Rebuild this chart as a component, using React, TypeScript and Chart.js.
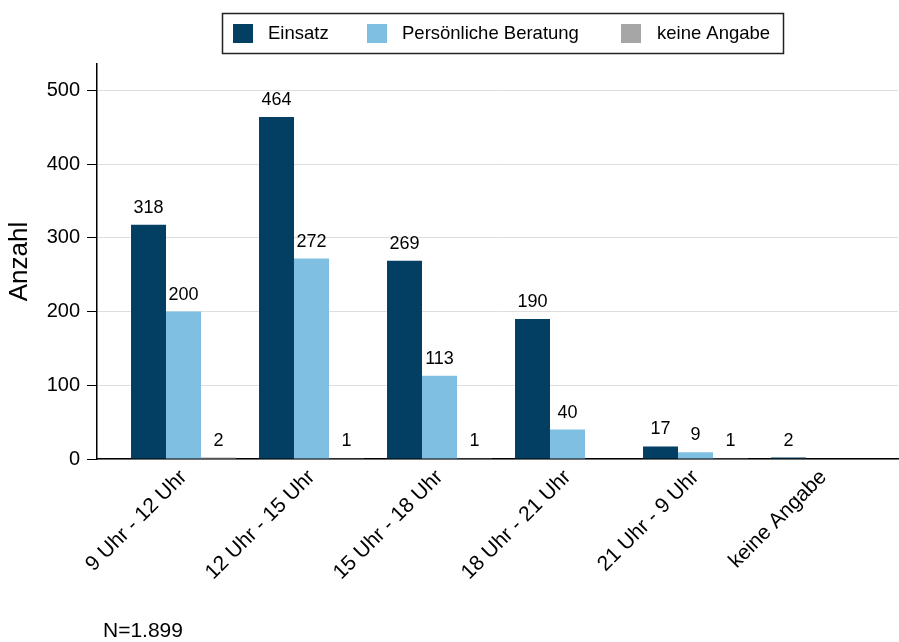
import React, { useEffect, useRef } from "react";
import { Chart, registerables } from "chart.js";

Chart.register(...registerables);

const categories = ["9 Uhr - 12 Uhr", "12 Uhr - 15 Uhr", "15 Uhr - 18 Uhr", "18 Uhr - 21 Uhr", "21 Uhr - 9 Uhr", "keine Angabe"];
const einsatz: (number | null)[] = [318, 464, 269, 190, 17, 2];
const beratung: (number | null)[] = [200, 272, 113, 40, 9, null];
const keineAngabe: (number | null)[] = [2, 1, 1, null, 1, null];
const seriesNames = ["Einsatz", "Persönliche Beratung", "keine Angabe"];
const seriesColors = ["#023f62", "#7fbfe2", "#a6a6a6"];
const yTicks = [0, 100, 200, 300, 400, 500];
const noteText = "N=1.899";

const FONT = "'Liberation Sans', Arial, sans-serif";

const toPoints = (arr: (number | null)[]) => arr.map((v, i) => ({ x: i, y: v }));

const valueLabels = {
  id: "valueLabels",
  afterDatasetsDraw(chart: any) {
    const ctx = chart.ctx;
    ctx.save();
    ctx.font = `18px ${FONT}`;
    ctx.fillStyle = "#000";
    ctx.textAlign = "center";
    ctx.textBaseline = "alphabetic";
    chart.data.datasets.forEach((ds: any, di: number) => {
      const meta = chart.getDatasetMeta(di);
      meta.data.forEach((el: any, i: number) => {
        const v = ds.data[i].y;
        if (v === null || v === undefined) return;
        ctx.fillText(String(v), el.x, el.y - 12);
      });
    });
    ctx.restore();
  },
};

const legendBox = {
  id: "legendBox",
  afterDraw(chart: any) {
    const ctx = chart.ctx;
    ctx.save();
    ctx.strokeStyle = "#222";
    ctx.lineWidth = 1.5;
    ctx.strokeRect(222.5, 13.5, 561, 40);
    const markerX = [233, 367, 621];
    const textX = [268, 402, 657];
    ctx.font = `18.5px ${FONT}`;
    ctx.textBaseline = "middle";
    ctx.textAlign = "left";
    seriesNames.forEach((name, i) => {
      ctx.fillStyle = seriesColors[i];
      ctx.fillRect(markerX[i], 24, 20, 19);
      ctx.fillStyle = "#000";
      ctx.fillText(name, textX[i], 34);
    });
    ctx.font = `21px ${FONT}`;
    ctx.textBaseline = "alphabetic";
    ctx.fillText(noteText, 103, 637);
    ctx.restore();
  },
};

export default function App() {
  const ref = useRef<HTMLCanvasElement>(null);
  useEffect(() => {
    if (!ref.current) return;
    const chart = new Chart(ref.current, {
      type: "bar",
      data: {
        datasets: seriesNames.map((name, i) => ({
          label: name,
          data: toPoints([einsatz, beratung, keineAngabe][i]) as any,
          backgroundColor: seriesColors[i],
          borderWidth: 0,
          categoryPercentage: 0.82,
          barPercentage: 1,
        })),
      },
      options: {
        animation: false,
        responsive: false,
        devicePixelRatio: 1,
        layout: { padding: { top: 64, right: 1, left: 0, bottom: 0 } },
        plugins: { legend: { display: false }, tooltip: { enabled: false } },
        scales: {
          x: {
            type: "linear",
            offset: false,
            min: -0.6758,
            max: 5.582,
            afterFit: (s: any) => {
              s.height = 183;
            },
            grid: { display: false, drawTicks: false, offset: false },
            border: { display: true, color: "#000", width: 1.5 },
            ticks: {
              stepSize: 1,
              includeBounds: false,
              autoSkip: false,
              maxRotation: 45,
              minRotation: 45,
              padding: 6,
              color: "#000",
              font: { family: FONT, size: 21 },
              callback: (v: any) => categories[v] ?? "",
            },
          },
          y: {
            min: 0,
            max: 536,
            afterFit: (s: any) => {
              s.width = 97;
            },
            afterBuildTicks: (s: any) => {
              s.ticks = yTicks.map((v) => ({ value: v }));
            },
            grid: { color: "#dedede", lineWidth: 1, tickColor: "#000", tickLength: 10, drawTicks: true },
            border: { display: true, color: "#000", width: 1.5 },
            title: { display: true, text: "Anzahl", color: "#000", font: { family: FONT, size: 26 }, padding: { top: 4, bottom: 0 } },
            ticks: { stepSize: 100, includeBounds: false, padding: 7, color: "#000", font: { family: FONT, size: 20 } },
          },
        },
      },
      plugins: [valueLabels, legendBox],
    });
    return () => chart.destroy();
  }, []);
  return (
    <div style={{ position: "absolute", left: 0, top: 0, width: 899, height: 642, background: "#fff" }}>
      <canvas ref={ref} width={899} height={642} />
    </div>
  );
}
